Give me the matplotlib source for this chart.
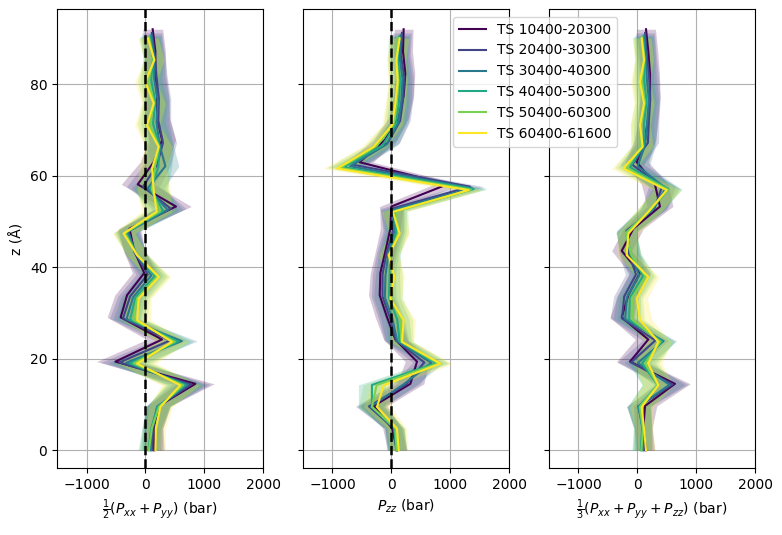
import numpy as np
import matplotlib
matplotlib.use("Agg")
import matplotlib.pyplot as plt

# time windows and the top of each z profile (box shrinks a little over time)
labels = ["TS 10400-20300", "TS 20400-30300", "TS 30400-40300",
          "TS 40400-50300", "TS 50400-60300", "TS 60400-61600"]
z_top = [92.0, 91.2, 90.7, 90.4, 90.2, 90.0]
n_bins = 20

# 1/2 (Pxx + Pyy), bar, bottom bin first
p_lat = [
    [150, 140, 226, 850, -510, 283, -420, -311, -20, -190, -270, 520, -130, 141, 283, 198, 198, 170, 170, 124],
    [120, 130, 220, 780, -440, 420, -380, -260, 40, -180, -290, 430, -40, 200, 300, 220, 230, 190, 160, 110],
    [90, 110, 200, 720, -330, 620, -320, -210, 100, -160, -300, 380, 40, 340, 240, 190, 210, 150, 150, 100],
    [50, 100, 210, 680, -260, 560, -260, -170, 160, -150, -330, 300, 90, 220, 240, 130, 170, 100, 130, 80],
    [60, 110, 230, 640, -200, 500, -200, -140, 200, -140, -350, 250, 110, 160, 230, 70, 150, 50, 140, 60],
    [170, 180, 255, 594, -141, 453, -140, -113, 230, -140, -370, 190, 141, 113, 226, 28, 141, 0, 153, 45],
]
# Pzz, bar
p_zz = [
    [96, 12, -300, 323, 436, 68, -73, -198, -187, -100, -17, 0, 950, -540, -110, 124, 209, 238, 198, 209],
    [110, 40, -380, 250, 560, 80, -20, -150, -150, -80, 30, 10, 1340, -660, -60, 150, 200, 220, 160, 180],
    [100, 60, -350, 200, 680, 100, 20, -110, -100, -50, 50, 20, 1370, -700, -80, 120, 170, 190, 140, 160],
    [80, 50, -330, -330, 760, 140, 100, -40, -30, -20, 80, 60, 1400, -810, -150, 80, 130, 150, 110, 130],
    [90, 70, -330, -250, 800, 170, 160, 0, 20, -30, 120, 80, 1350, -870, -250, 40, 90, 120, 90, 110],
    [124, 96, -243, -130, 832, 181, 209, -17, 51, -45, 141, 28, 1312, -922, -300, 12, 68, 107, 85, 141],
]
# 1/3 (Pxx + Pyy + Pzz), bar
p_avg = [
    [148, 102, 131, 640, -124, 187, -265, -152, 46, -265, -68, 385, 300, -10, 131, 187, 216, 216, 187, 148],
    [117, 100, 20, 600, -107, 307, -260, -223, -23, -147, -183, 290, 420, -87, 180, 197, 220, 200, 160, 133],
    [93, 93, 17, 547, 7, 447, -207, -177, 33, -123, -183, 260, 483, 7, 133, 167, 197, 163, 147, 120],
    [60, 83, 30, 343, 80, 420, -140, -127, 97, -107, -193, 220, 527, -123, 110, 113, 157, 117, 123, 97],
    [70, 97, 43, 343, 133, 390, -80, -93, 140, -103, -193, 193, 523, -183, 70, 60, 130, 73, 123, 77],
    [148, 114, 75, 357, 187, 357, 46, -10, 187, -181, -152, 187, 499, -237, 91, 46, 114, 46, 114, 75],
]
# spread of each bin (std over blocks), bar
err_lat = [170, 160, 200, 320, 320, 260, 230, 210, 200, 180, 190, 260, 280, 230, 230, 210, 200, 180, 170, 170]
err_zz = [160, 160, 230, 230, 200, 200, 200, 190, 170, 170, 170, 200, 230, 230, 200, 170, 170, 160, 160, 160]
err_avg = [150, 150, 200, 260, 230, 220, 200, 180, 180, 170, 170, 220, 230, 200, 180, 170, 170, 160, 160, 160]

panels = [
    (p_lat, err_lat, r"$\frac{1}{2}(P_{xx}+P_{yy})$ (bar)", True),
    (p_zz, err_zz, r"$P_{zz}$ (bar)", True),
    (p_avg, err_avg, r"$\frac{1}{3}(P_{xx}+P_{yy}+P_{zz})$ (bar)", False),
]

colors = plt.cm.viridis(np.linspace(0, 1, len(labels)))

fig, axes = plt.subplots(1, 3, figsize=(7.82, 5.35), dpi=100, sharey=True)
fig.subplots_adjust(left=0.073, right=0.9655, top=0.983, bottom=0.125, wspace=0.194)

for ax, (data, err, xlabel, zero_line) in zip(axes, panels):
    for i, lab in enumerate(labels):
        z = np.linspace(0, z_top[i], n_bins)
        vals = np.array(data[i], dtype=float)
        e = np.array(err, dtype=float)
        ax.fill_betweenx(z, vals - e, vals + e, color=colors[i], alpha=0.22, linewidth=0)
        ax.plot(vals, z, color=colors[i], lw=1.5, label=lab)
    if zero_line:
        ax.axvline(0, color="black", ls="--", lw=1.8, zorder=5)
    ax.set_xlim(-1500, 2000)
    ax.set_xticks([-1000, 0, 1000, 2000])
    ax.set_xlabel(xlabel)
    ax.grid(True)
    ax.set_axisbelow(True)

axes[0].set_ylim(-3.9, 96.4)
axes[0].set_ylabel("z (Å)")
axes[0].set_yticks([0, 20, 40, 60, 80])

handles, labs = axes[0].get_legend_handles_labels()
fig.legend(handles, labs, loc="upper left", bbox_to_anchor=(446 / 782, 1 - 10 / 535))

fig.savefig("out.png", dpi=100)
